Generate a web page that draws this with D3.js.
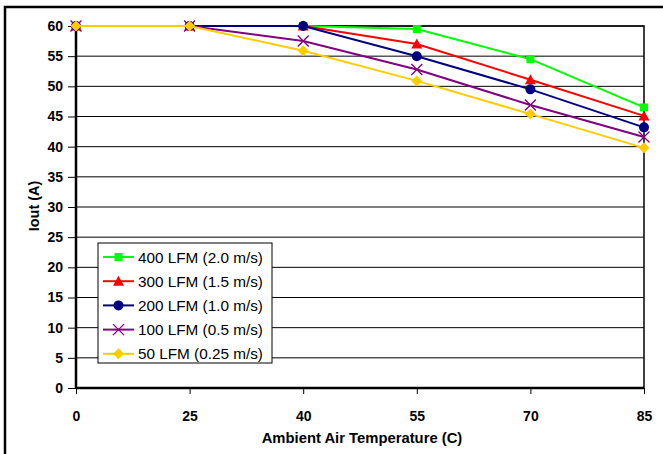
<!DOCTYPE html>
<html><head><meta charset="utf-8">
<script src="https://cdn.jsdelivr.net/npm/d3@7"></script>
<style>body{margin:0;background:#fff}svg{display:block}text{font-family:Arial,"Liberation Sans",sans-serif}</style>
</head><body><svg id="c" width="663" height="454"></svg>
<script>
const categories = ["0","25","40","55","70","85"];
const yTicks = [0,5,10,15,20,25,30,35,40,45,50,55,60];
const seriesNames = ["400 LFM (2.0 m/s)","300 LFM (1.5 m/s)","200 LFM (1.0 m/s)","100 LFM (0.5 m/s)","50 LFM (0.25 m/s)"];
const s400 = [60,60,60,59.5,54.5,46.5];
const s300 = [60,60,60,57,51.1,45.1];
const s200 = [60,60,60,55,49.5,43.2];
const s100 = [60,60,57.5,52.8,46.9,41.6];
const s50  = [60,60,55.9,50.9,45.4,39.8];
const colors = ["#00ff00","#ff0000","#000080","#800080","#ffcc00"];
const markers = ["square","triangle","circle","x","diamond"];
const allSeries = [s400,s300,s200,s100,s50];

const svg = d3.select("#c");
const x = d3.scalePoint().domain(categories).range([76,644]);
const y = d3.scaleLinear().domain([0,60]).range([388,26]);

// outer frame
svg.append("rect").attr("x",5).attr("y",7).attr("width",700).attr("height",500)
  .attr("fill","none").attr("stroke","#000").attr("stroke-width",2.5);

// gridlines
svg.append("g").selectAll("line").data(yTicks.filter(d=>d>0)).join("line")
  .attr("x1",76).attr("x2",644).attr("y1",d=>y(d)).attr("y2",d=>y(d))
  .attr("stroke","#000").attr("stroke-width",1);
// plot border right/top
svg.append("path").attr("d",`M76,${y(60)}H644V388`).attr("fill","none").attr("stroke","#000").attr("stroke-width",1.5);

// axes
const yAxis = d3.axisLeft(y).tickValues(yTicks).tickSize(8).tickPadding(5);
const gy = svg.append("g").attr("transform","translate(76,0)").call(yAxis);
gy.select(".domain").attr("stroke-width",2.5).attr("d",`M0,26V388`);
gy.selectAll(".tick line").attr("stroke-width",1);
gy.selectAll("text").attr("font-size",14).attr("font-weight","bold").attr("fill","#000");

const xAxis = d3.axisBottom(x).tickSize(6).tickPadding(20);
const gx = svg.append("g").attr("transform","translate(0,388)").call(xAxis);
gx.select(".domain").attr("stroke-width",2.5).attr("d","M76,0H644");
gx.selectAll("text").attr("font-size",14).attr("font-weight","bold").attr("fill","#000")
  .attr("dy",null).attr("y",33)
  .style("font-family","'Liberation Sans Narrow','Arial Narrow',Arial,sans-serif");

svg.append("text").attr("x",362).attr("y",443).attr("text-anchor","middle")
  .attr("font-size",14.8).attr("font-weight","bold").text("Ambient Air Temperature (C)");
svg.append("text").attr("transform","translate(39,206) rotate(-90)").attr("text-anchor","middle")
  .attr("font-size",14.5).attr("font-weight","bold").text("Iout (A)");

function drawMarker(g, type, color, cx, cy){
  if(type==="square") g.append("rect").attr("x",cx-4).attr("y",cy-4).attr("width",8).attr("height",8).attr("fill",color);
  else if(type==="triangle") g.append("path").attr("d",`M${cx},${cy-5.5}L${cx+5.5},${cy+4.5}L${cx-5.5},${cy+4.5}Z`).attr("fill",color);
  else if(type==="circle") g.append("circle").attr("cx",cx).attr("cy",cy).attr("r",5).attr("fill",color);
  else if(type==="x") g.append("path").attr("d",`M${cx-5.5},${cy-5.5}L${cx+5.5},${cy+5.5}M${cx-5.5},${cy+5.5}L${cx+5.5},${cy-5.5}`).attr("stroke",color).attr("stroke-width",1.3);
  else if(type==="diamond") g.append("path").attr("d",`M${cx},${cy-5.5}L${cx+5.5},${cy}L${cx},${cy+5.5}L${cx-5.5},${cy}Z`).attr("fill",color);
}

const line = d3.line().x((d,i)=>x(categories[i])).y(d=>y(d));
allSeries.forEach((s,k)=>{
  const g = svg.append("g");
  g.append("path").datum(s).attr("d",line).attr("fill","none").attr("stroke",colors[k]).attr("stroke-width",2);
  s.forEach((v,i)=>drawMarker(g,markers[k],colors[k],x(categories[i]),y(v)));
});

// legend
const lg = svg.append("g");
lg.append("rect").attr("x",98).attr("y",243).attr("width",174).attr("height",120)
  .attr("fill","#fff").attr("stroke","#000").attr("stroke-width",1);
seriesNames.forEach((n,k)=>{
  const ly = 257 + k*24.2;
  lg.append("line").attr("x1",103).attr("x2",134).attr("y1",ly).attr("y2",ly).attr("stroke",colors[k]).attr("stroke-width",2);
  drawMarker(lg,markers[k],colors[k],118.5,ly);
  lg.append("text").attr("x",138).attr("y",ly+5.5).attr("font-size",15.3).text(n);
});
</script></body></html>
